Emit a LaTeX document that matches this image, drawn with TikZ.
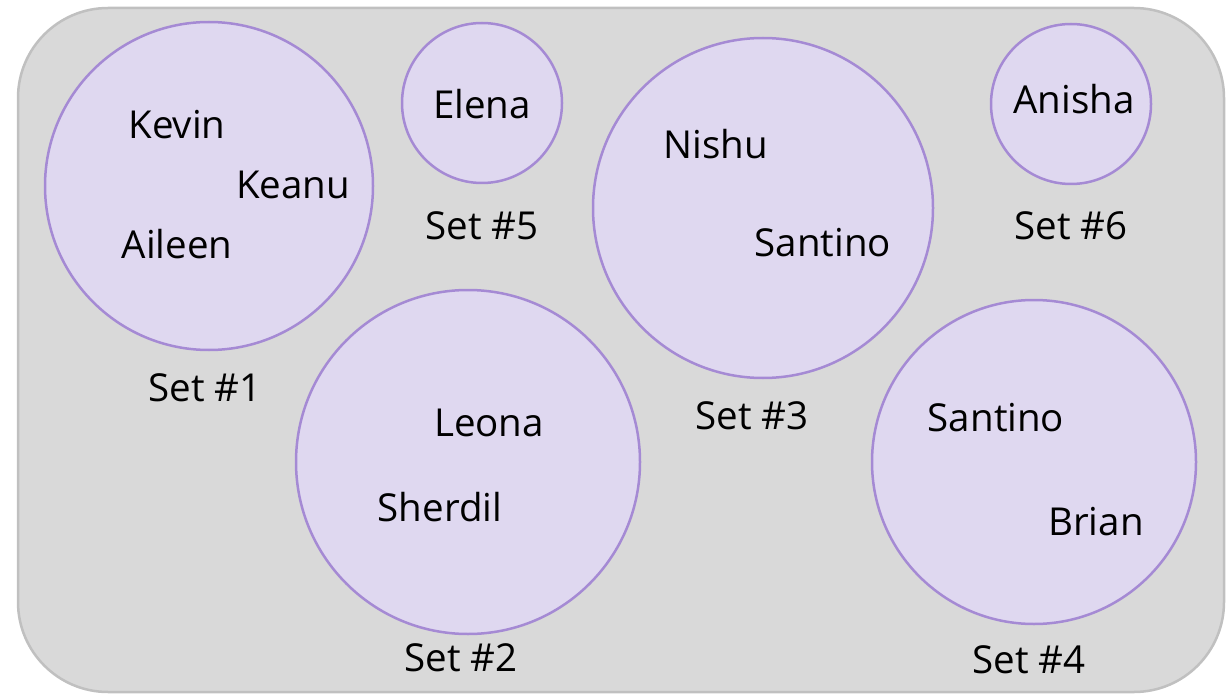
\documentclass[tikz,border=0pt]{standalone}
\usepackage{fontspec}
\setmainfont{Open Sans}
\definecolor{boxfill}{RGB}{217,217,217}
\definecolor{boxline}{RGB}{192,192,192}
\definecolor{setfill}{RGB}{223,216,240}
\definecolor{setline}{RGB}{165,138,212}
\tikzset{
  setcirc/.style={draw=setline, fill=setfill, line width=2.5pt},
  lbl/.style={font=\fontsize{38.5}{44}\selectfont, text=black, inner sep=0pt},
}
\begin{document}
\begin{tikzpicture}[x=1pt,y=-1pt]
\useasboundingbox (0,0) rectangle (1226,695);
\draw[draw=boxline, fill=boxfill, line width=2.5pt, rounded corners=90pt] (18,8) rectangle (1224,692);
% circles
\path[setcirc] (209,186) circle[radius=164];
\path[setcirc] (482,103) circle[radius=80];
\path[setcirc] (763,208) circle[radius=170];
\path[setcirc] (1071,104) circle[radius=80];
\path[setcirc] (468,462) circle[radius=172];
\path[setcirc] (1034,462) circle[radius=162];
% names
\node[lbl] (kevin) at (177,125) {Kevin};
\node[lbl] (keanu) at (293,185) {Keanu};
\node[lbl] (aileen) at (177,244) {Aileen};
\node[lbl] (elena) at (482,104) {Elena};
\node[lbl] (nishu) at (716,144) {Nishu};
\node[lbl] (santino1) at (823,243) {Santino};
\node[lbl] (anisha) at (1074,99) {Anisha};
\node[lbl] (leona) at (489,423) {Leona};
\node[lbl] (sherdil) at (440,507) {Sherdil};
\node[lbl] (santino2) at (996,418) {Santino};
\node[lbl] (brian) at (1096,522) {Brian};
% set labels
\node[lbl] (s1) at (205,388) {Set \#1};
\node[lbl] (s2) at (461,658) {Set \#2};
\node[lbl] (s3) at (752,416) {Set \#3};
\node[lbl] (s4) at (1029,660) {Set \#4};
\node[lbl] (s5) at (482,226) {Set \#5};
\node[lbl] (s6) at (1071,226) {Set \#6};
\end{tikzpicture}
\end{document}
